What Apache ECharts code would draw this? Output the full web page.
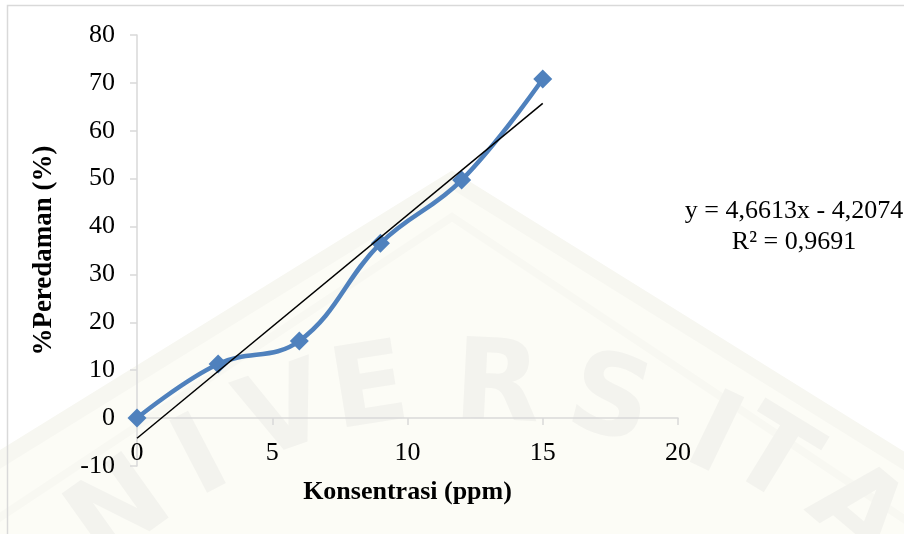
<!DOCTYPE html>
<html>
<head>
<meta charset="utf-8">
<script src="https://cdn.jsdelivr.net/npm/echarts@6/dist/echarts.min.js"></script>
<style>
  html, body { margin: 0; padding: 0; background: #ffffff; }
  #chart { width: 904px; height: 534px; }
</style>
</head>
<body>
<div id="chart"></div>
<script>
// Konsentrasi (ppm) vs %Peredaman (%)
const konsentrasi = [0, 3, 6, 9, 12, 15];
const peredaman = [0, 11.3, 16.1, 36.5, 49.7, 70.8];

// Linear trendline coefficients as printed on the chart
const slope = 4.6613;
const intercept = -4.2074;
const rSquared = '0,9691';
const trendRange = [0, 15];

const xTicks = { min: 0, max: 20, interval: 5 };
const yTicks = { min: -10, max: 80, interval: 10 };

const fmt = v => String(v).replace('.', ',');
const equationText = 'y = ' + fmt(slope) + 'x - ' + fmt(Math.abs(intercept));
const rText = 'R² = ' + rSquared;

const pointData = konsentrasi.map((x, i) => [x, peredaman[i]]);
const trendData = trendRange.map(x => [x, slope * x + intercept]);

const serif = '"Liberation Serif", "Times New Roman", serif';
const axisGrey = '#d9d9d9';

// faint background watermark letters
const wmColor = '#f3f3ee';
const wmFont = 'bold 112px "DejaVu Sans", sans-serif';
const wmLetters = [
  { t: 'N', x: 122, y: 515, r: 0.62 },
  { t: 'I', x: 203, y: 462, r: 0.48 },
  { t: 'V', x: 286, y: 418, r: 0.34 },
  { t: 'E', x: 370, y: 394, r: 0.16 },
  { t: 'R', x: 497, y: 390, r: -0.05 },
  { t: 'S', x: 609, y: 405, r: -0.25 },
  { t: 'I', x: 712, y: 440, r: -0.45 },
  { t: 'T', x: 770, y: 462, r: -0.55 },
  { t: 'A', x: 855, y: 515, r: -0.7 }
];

const chart = echarts.init(document.getElementById('chart'), null, { renderer: 'canvas' });

const graphics = [
  { type: 'rect', z: -10, shape: { x: 0, y: 0, width: 904, height: 534 }, style: { fill: '#ffffff' }, silent: true },
  { type: 'polygon', z: -9, silent: true,
    shape: { points: [[452, 180], [-260, 620], [1160, 620]] },
    style: { fill: '#fcfcf6' } },
  { type: 'polyline', z: -8, silent: true,
    shape: { points: [[-260, 620], [452, 180], [1160, 620]] },
    style: { stroke: '#f7f7f1', lineWidth: 16, fill: null } },
  { type: 'polyline', z: -8, silent: true,
    shape: { points: [[-200, 650], [452, 217], [1100, 650]] },
    style: { stroke: '#f8f8f2', lineWidth: 8, fill: null } },
  ...wmLetters.map(l => ({
    type: 'text', z: -7, silent: true, x: l.x, y: l.y, rotation: l.r,
    style: { text: l.t, font: wmFont, fill: wmColor, align: 'center', verticalAlign: 'middle' }
  })),
  { type: 'rect', z: -5, silent: true,
    shape: { x: 7.5, y: 5.5, width: 920, height: 560 },
    style: { fill: null, stroke: axisGrey, lineWidth: 1.5 } },
  { type: 'text', z: 10, x: 794, y: 211,
    style: { text: equationText, font: '26px ' + serif, fill: '#000', align: 'center', verticalAlign: 'middle' } },
  { type: 'text', z: 10, x: 794, y: 242,
    style: { text: rText, font: '26px ' + serif, fill: '#000', align: 'center', verticalAlign: 'middle' } }
];

const xCommon = {
  type: 'value',
  min: xTicks.min, max: xTicks.max, interval: xTicks.interval,
  splitLine: { show: false }
};

const option = {
  backgroundColor: 'transparent',
  animation: false,
  graphic: graphics,
  grid: { left: 137, top: 35, width: 541, height: 431, containLabel: false, outerBoundsMode: 'none' },
  xAxis: [
    // axis line and ticks crossing at y = 0
    Object.assign({}, xCommon, {
      position: 'bottom',
      axisLine: { show: true, onZero: true, lineStyle: { color: axisGrey, width: 1.5 } },
      axisTick: { show: true, length: 7, lineStyle: { color: axisGrey, width: 1.5 } },
      axisLabel: { show: false }
    }),
    // tick labels and title just under the zero line
    Object.assign({}, xCommon, {
      position: 'bottom',
      offset: -36,
      axisLine: { show: false, onZero: false },
      axisTick: { show: false },
      axisLabel: { margin: 10, fontFamily: serif, fontSize: 26, color: '#000' },
      name: 'Konsentrasi (ppm)',
      nameLocation: 'middle',
      nameGap: 49,
      nameTextStyle: { fontFamily: serif, fontSize: 26, fontWeight: 'bold', color: '#000' }
    })
  ],
  yAxis: {
    type: 'value',
    min: yTicks.min, max: yTicks.max, interval: yTicks.interval,
    name: '%Peredaman (%)',
    nameLocation: 'middle',
    nameGap: 79,
    nameRotate: 90,
    nameTextStyle: { fontFamily: serif, fontSize: 27, fontWeight: 'bold', color: '#000' },
    axisLine: { show: true, onZero: false, lineStyle: { color: axisGrey, width: 1.5 } },
    axisTick: { show: true, length: 7, lineStyle: { color: axisGrey, width: 1.5 } },
    axisLabel: { margin: 22, fontFamily: serif, fontSize: 26, color: '#000' },
    splitLine: { show: false }
  },
  series: [
    {
      type: 'line',
      xAxisIndex: 0,
      data: pointData,
      smooth: 0.4,
      symbol: 'diamond',
      symbolSize: 19,
      lineStyle: { color: '#4f81bd', width: 4.5 },
      itemStyle: { color: '#4f81bd', borderWidth: 0 },
      z: 3
    },
    {
      type: 'line',
      xAxisIndex: 0,
      data: trendData,
      symbol: 'none',
      lineStyle: { color: '#000', width: 1.5 },
      z: 4
    }
  ]
};

chart.setOption(option);
</script>
</body>
</html>
